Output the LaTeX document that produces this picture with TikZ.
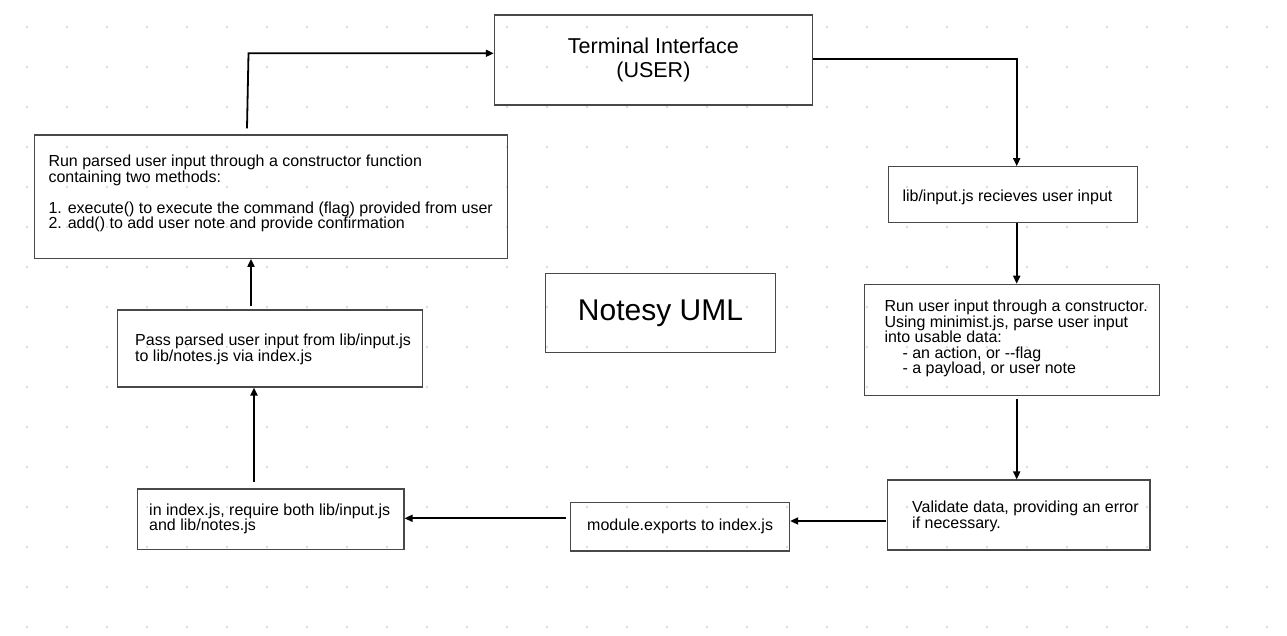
\documentclass[tikz,border=0pt]{standalone}
\usepackage{fontspec}
\setmainfont{Liberation Sans}
\usetikzlibrary{arrows.meta}
\definecolor{boxline}{RGB}{72,72,72}
\definecolor{dotc}{RGB}{208,208,208}
\begin{document}
\begin{tikzpicture}[x=1pt,y=-1pt,
  box/.style={draw=boxline, line width=1.1pt, inner sep=0pt, rectangle},
  conn/.style={draw=black, line width=1.8pt, -{Triangle[length=8pt,width=7pt]}},
  txt/.style={inner sep=0pt, align=left, font=\fontsize{16}{15.5}\selectfont},
]
\useasboundingbox (0,0) rectangle (1287,636);
\fill[white] (0,0) rectangle (1287,636);
\foreach \i in {0,...,31}{\foreach \j in {0,...,15}{\fill[dotc] (27+40*\i,27+40*\j) circle (1.1pt);}}

% boxes
\node[box, minimum width=318.2pt, minimum height=90pt] (term) at (653.4,60) {};
\node[box, minimum width=473.2pt, minimum height=123.3pt] (ctor) at (271.1,196.65) {};
\node[box, minimum width=305.4pt, minimum height=77pt] (pass) at (270,348.5) {};
\node[box, minimum width=266.3pt, minimum height=60.5pt] (req) at (270.85,519.25) {};
\node[box, minimum width=218.9pt, minimum height=48.7pt] (mod) at (680.15,526.65) {};
\node[box, minimum width=262.2pt, minimum height=70pt] (val) at (1018.9,515) {};
\node[box, minimum width=295pt, minimum height=111.4pt] (parse) at (1011.8,340) {};
\node[box, minimum width=248.6pt, minimum height=56pt] (recv) at (1013,194.7) {};
\node[box, minimum width=229.9pt, minimum height=78.8pt] (title) at (660.45,312.9) {};

% texts
\node[inner sep=0pt, align=center, font=\fontsize{21.5}{24}\selectfont] (termt) at (term.center) {Terminal Interface\\(USER)};
\node[inner sep=0pt, font=\fontsize{30}{36}\selectfont] (titlet) at (title.center) {Notesy UML};
\node[txt, anchor=north west] (ctort) at (48.3,155) {Run parsed user input through a constructor function\\containing two methods:\\[15.5pt]1. execute() to execute the command (flag) provided from user\\2. add() to add user note and provide confirmation};
\node[txt, anchor=north west] (passt) at (135,334) {Pass parsed user input from lib/input.js\\to lib/notes.js via index.js};
\node[txt, anchor=north west] (reqt) at (149,503.4) {in index.js, require both lib/input.js\\and lib/notes.js};
\node[txt, anchor=west] (modt) at (587,526.6) {module.exports to index.js};
\node[txt, anchor=north west] (valt) at (912,501) {Validate data, providing an error\\if necessary.};
\node[txt, anchor=north west] (parset) at (884.3,300) {Run user input through a constructor.\\Using minimist.js, parse user input\\into usable data:\\\hspace*{18pt}- an action, or -{}-flag\\\hspace*{18pt}- a payload, or user note};
\node[txt, anchor=north west] (recvt) at (902.3,190.1) {lib/input.js recieves user input};

% connector helpers
\coordinate (c1a) at (247,128.3);
\coordinate (c1b) at (248.5,53.3);
\coordinate (c2) at (1016.7,58.7);
\coordinate (c5) at (0,521);
\coordinate (c6) at (0,518.3);
\coordinate (c7) at (254,481.7);
\coordinate (c8) at (251,306);

\draw[conn] (c1a) -- (c1b) -- (c1b -| term.west);
\draw[conn] (c2 -| term.east) -- (c2) -- (c2 |- recv.north);
\draw[conn] (recv.south -| c2) -- (parse.north -| c2);
\draw[conn] ([yshift=-2.5pt]parse.south -| c2) -- (val.north -| c2);
\draw[conn] ([xshift=-1.5pt]val.west |- c5) -- (mod.east |- c5);
\draw[conn] ([xshift=-4pt]mod.west |- c6) -- (req.east |- c6);
\draw[conn] (c7) -- (c7 |- pass.south);
\draw[conn] (c8) -- (c8 |- ctor.south);
\end{tikzpicture}
\end{document}
